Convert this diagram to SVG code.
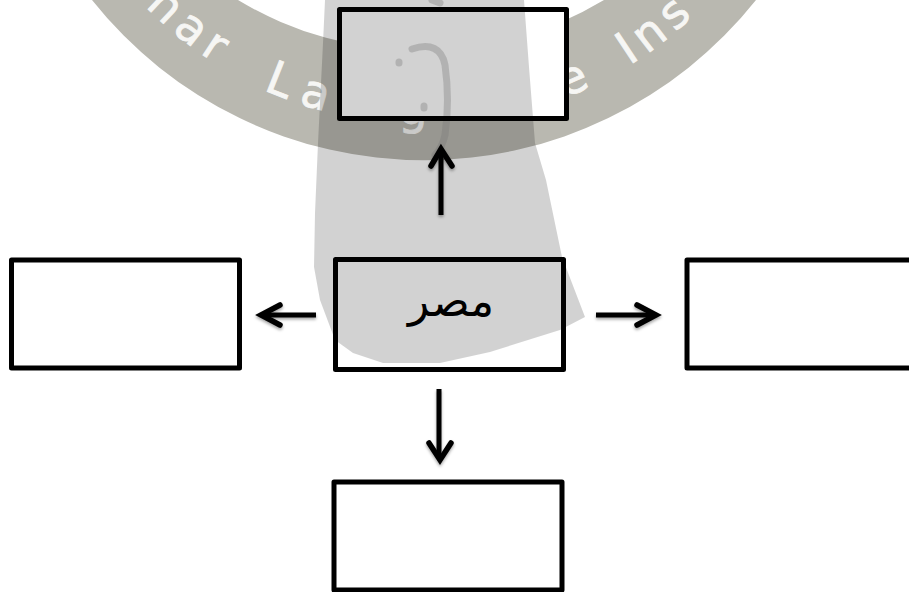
<svg xmlns="http://www.w3.org/2000/svg" width="909" height="592" viewBox="0 0 909 592">
<style>
.box{fill:none;stroke:#000;stroke-width:5;stroke-linejoin:round}
.bg{fill:#fff}
.arrow{fill:none;stroke:#000;stroke-width:5;stroke-linecap:butt}
.head{fill:none;stroke:#000;stroke-width:5.5;stroke-linecap:round;stroke-linejoin:miter}
.wm{font-family:"DejaVu Sans",sans-serif;font-size:46px;fill:#f6f6f4;stroke:#f6f6f4;stroke-width:.8px;letter-spacing:7px}
.label{font-family:"DejaVu Sans",sans-serif;font-size:44px;fill:#000;text-anchor:middle}
</style>
<defs>
<path id="arcText" d="M 54 -147 A 388 388 0 0 0 794 -147"/>
<filter id="sh" x="-30%" y="-30%" width="160%" height="160%"><feDropShadow dx="0" dy="2" stdDeviation="1.5" flood-color="#000" flood-opacity=".35"/></filter>
</defs>
<g id="watermark">
<path d="M 92 0 A 424 424 0 0 0 756 0 L 604 0 A 355 355 0 0 1 238 0 Z" fill="#b9b8b0"/>
<text class="wm"><textPath href="#arcText" startOffset="180">nar</textPath></text>
<text class="wm" style="letter-spacing:12px"><textPath href="#arcText" startOffset="325">La</textPath></text>
<text class="wm"><textPath href="#arcText" startOffset="465">g</textPath></text>
<text class="wm"><textPath href="#arcText" startOffset="635">e</textPath></text>
<text class="wm"><textPath href="#arcText" startOffset="707">Ins</textPath></text>
</g>
<rect class="bg" x="339" y="9" width="228" height="110"/>
<rect class="bg" x="335" y="259" width="229" height="111"/>
<g id="watermark-bar">
<path d="M325 0 L323 43 L318 143 L315 213 L314 267 L320 300 L335 340 L353 353 L383 363 L440 363 L490 352 L560 330 L585 317 L562 257 L546 180 L535 143 L529 67 L524 0 Z" fill="#000" fill-opacity=".176"/>
<g fill="none" stroke="#777" stroke-opacity=".35" stroke-width="7" stroke-linecap="round">
<path d="M412 49 Q440 40 445 65 Q450 100 445 135 Q442 148 435 155"/>
<path d="M399 62 L399 63 M424 106 L424 108 M432 0 L440 3"/>
</g>
</g>
<g id="node-top"><rect class="box" x="339.5" y="9.5" width="227" height="109"/></g>
<g id="node-center"><rect class="box" x="335.5" y="259.5" width="228" height="110"/>
<text class="label" x="451" y="316" direction="rtl">مصر</text></g>
<g id="node-left"><rect class="box" x="11.5" y="260" width="228" height="108"/></g>
<g id="node-right"><rect class="box" x="687" y="260" width="228" height="108"/></g>
<g id="node-bottom"><rect class="box" x="334" y="482" width="228" height="108"/></g>
<g id="connectors" filter="url(#sh)">
<path class="arrow" d="M441 215 V152"/><path class="head" d="M431 166 L441 149 L452 166"/>
<path class="arrow" d="M316 315 H264"/><path class="head" d="M280 305 L261 315 L280 325"/>
<path class="arrow" d="M596 315 H653"/><path class="head" d="M637 305 L656 315 L637 325"/>
<path class="arrow" d="M439 389 V456"/><path class="head" d="M429 443 L440 460 L451 443"/>
</g>
</svg>
